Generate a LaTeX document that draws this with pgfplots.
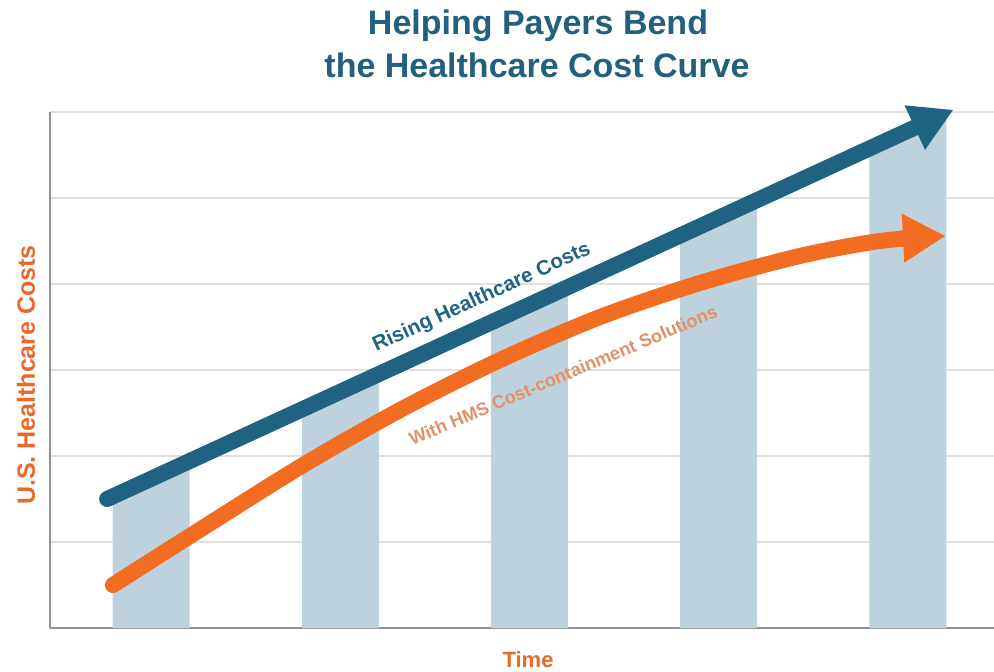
\documentclass[border=0pt]{standalone}
\usepackage{fontspec}
\setmainfont{Liberation Sans}
\usepackage{pgfplots}
\pgfplotsset{compat=1.18}
\usetikzlibrary{arrows.meta}
\definecolor{costblue}{HTML}{1F6282}
\definecolor{costorange}{HTML}{F26C21}
\definecolor{barcol}{HTML}{BDD2DC}
\definecolor{titleblue}{HTML}{22607E}
\definecolor{labelorange}{HTML}{E8692A}
\definecolor{softorange}{HTML}{E39066}
\definecolor{gridcol}{HTML}{E0E0E0}
\begin{document}
\begin{tikzpicture}
\path[use as bounding box] (0,0) rectangle (497pt,335.5pt);
\begin{axis}[
  at={(25pt,21.5pt)}, anchor=south west,
  scale only axis, width=472pt, height=258pt,
  xmin=0.466, xmax=5.455, ymin=0, ymax=6,
  axis x line*=bottom, axis y line*=left,
  axis line style={draw=gray!85, line width=0.9pt},
  xtick=\empty, ytick={0,1,2,3,4,5,6}, yticklabels={},
  major tick length=0pt,
  ymajorgrids, grid style={draw=gridcol, line width=0.8pt},
  clip=false,
]
% bars (tops run under the rising-cost arrow)
\addplot[fill=barcol, draw=none] coordinates {(0.7965,0) (0.7965,1.529) (1.2035,1.941) (1.2035,0)} --cycle;
\addplot[fill=barcol, draw=none] coordinates {(1.7965,0) (1.7965,2.541) (2.2035,2.953) (2.2035,0)} --cycle;
\addplot[fill=barcol, draw=none] coordinates {(2.7965,0) (2.7965,3.553) (3.2035,3.965) (3.2035,0)} --cycle;
\addplot[fill=barcol, draw=none] coordinates {(3.7965,0) (3.7965,4.565) (4.2035,4.977) (4.2035,0)} --cycle;
\addplot[fill=barcol, draw=none] coordinates {(4.7965,0) (4.7965,5.577) (5.2035,5.989) (5.2035,0)} --cycle;
\addplot[costblue, line width=8pt, line cap=round,
  -{Triangle[length=21pt,width=24.5pt,line width=0pt]}] coordinates {
  (0.768,1.50) (5.238,6.023)
};
\addplot[costorange, line width=8pt, line cap=round, smooth,
  -{Triangle[length=21pt,width=24.5pt,line width=0pt]}] coordinates {
  (0.799,0.500) (1.206,1.070) (1.787,1.872) (2.316,2.535) (2.844,3.116)
  (3.373,3.616) (3.901,4.012) (4.429,4.326) (4.852,4.500) (5.196,4.558)
};
\node[rotate=24.6, text=costblue, font=\bfseries\fontsize{10.3pt}{12pt}\selectfont]
  at (axis cs:2.749,3.84) {Rising Healthcare Costs};
\node[rotate=22.9, text=softorange, font=\bfseries\fontsize{9.1pt}{11pt}\selectfont]
  at (axis cs:3.177,2.94) {With HMS Cost-containment Solutions};
\end{axis}
\node[anchor=base, text=titleblue, font=\bfseries\fontsize{17pt}{20pt}\selectfont]
  at (269pt,318pt) {Helping Payers Bend};
\node[anchor=base, text=titleblue, font=\bfseries\fontsize{17pt}{20pt}\selectfont]
  at (268.5pt,297pt) {the Healthcare Cost Curve};
\node[anchor=base, text=labelorange, font=\bfseries\fontsize{11pt}{13pt}\selectfont]
  at (264pt,2pt) {Time};
\node[rotate=90, text=labelorange, font=\bfseries\fontsize{12.5pt}{15pt}\selectfont]
  at (13pt,148pt) {U.S. Healthcare Costs};
\end{tikzpicture}
\end{document}
